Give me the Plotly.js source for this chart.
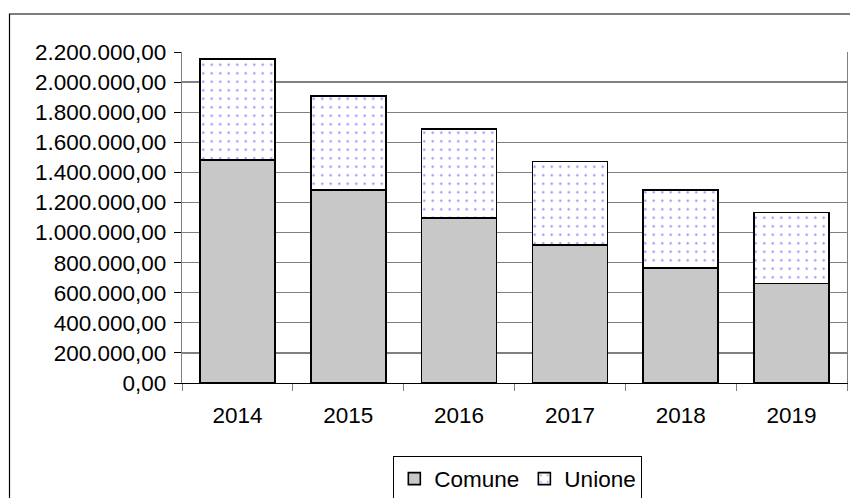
<!DOCTYPE html>
<html>
<head>
<meta charset="utf-8">
<script src="https://cdn.plot.ly/plotly-3.0.1.min.js"></script>
<style>
html,body{margin:0;padding:0;background:#fff;}
#chart{width:850px;height:498px;}
</style>
</head>
<body>
<div id="chart"></div>
<script>
const years = ['2014', '2015', '2016', '2017', '2018', '2019'];
const comune = [1482000, 1283000, 1095000, 917000, 763000, 662000];
const unione = [673000, 625000, 593000, 554000, 520000, 470000];
const seriesNames = ['Comune', 'Unione'];
const yTicks = [0, 200000, 400000, 600000, 800000, 1000000, 1200000, 1400000, 1600000, 1800000, 2000000, 2200000];

const font = {family: 'Liberation Sans, Arial, sans-serif', size: 22.5, color: '#000'};

const traces = [
  {
    type: 'bar', name: seriesNames[0], x: years, y: comune,
    marker: {color: '#c8c8c8', line: {color: '#000', width: 1.6}},
    hoverinfo: 'skip'
  },
  {
    type: 'bar', name: seriesNames[1], x: years, y: unione,
    marker: {
      color: '#ffffff',
      line: {color: '#000', width: 1.6},
      pattern: {shape: '.', fgcolor: '#8c8cff', bgcolor: '#ffffff', size: 8.5, solidity: 0.055}
    },
    hoverinfo: 'skip'
  }
];

const layout = {
  width: 850, height: 498,
  margin: {l: 182, r: 3, t: 52, b: 115, autoexpand: false},
  paper_bgcolor: '#fff', plot_bgcolor: '#fff',
  font: font,
  separators: ',.',
  barmode: 'stack',
  bargap: 0.323,
  showlegend: true,
  legend: {
    orientation: 'h', x: 0.505, xanchor: 'center', y: -0.222, yanchor: 'top',
    bordercolor: '#000', borderwidth: 1, font: font, traceorder: 'normal',
    itemwidth: 30
  },
  xaxis: {
    type: 'category', tickson: 'boundaries', ticks: 'outside', ticklen: 7,
    tickcolor: '#808080', showline: true, linecolor: '#000', linewidth: 1.2,
    showgrid: false, zeroline: false, tickfont: font, ticklabelstandoff: 12
  },
  yaxis: {
    range: [0, 2200000], tickvals: yTicks, tickformat: ',.2f',
    ticks: 'outside', ticklen: 7, tickcolor: '#000',
    showline: true, mirror: true, linecolor: '#808080', linewidth: 1.2,
    showgrid: true, gridcolor: '#808080', gridwidth: 1.2,
    zeroline: false, tickfont: font, ticklabelstandoff: 3
  },
  shapes: [
    {type: 'rect', xref: 'paper', yref: 'paper', x0: -0.2594, x1: 1.5, y0: -1, y1: 1.1148,
     line: {color: '#000', width: 1.2}, fillcolor: 'rgba(0,0,0,0)', layer: 'below'}
  ]
};

Plotly.newPlot('chart', traces, layout, {displayModeBar: false, staticPlot: true});
</script>
</body>
</html>
